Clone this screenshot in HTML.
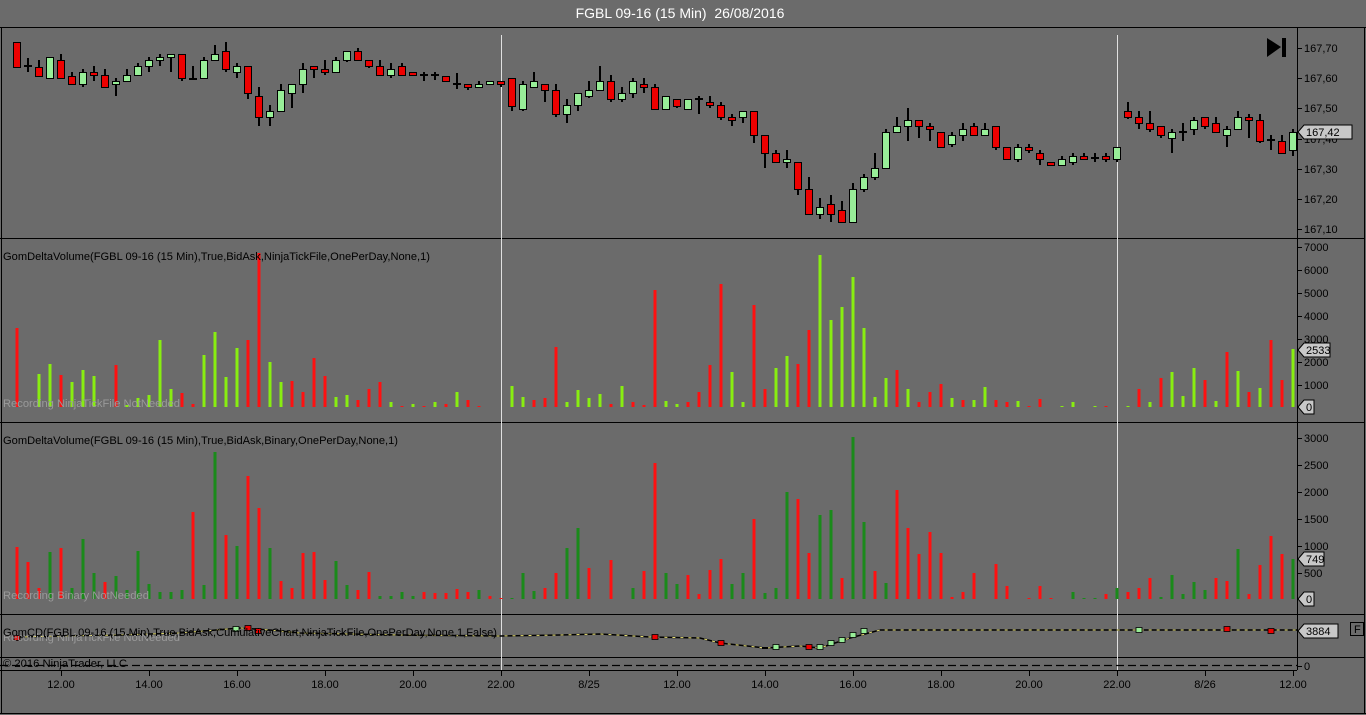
<!DOCTYPE html>
<html><head><meta charset="utf-8"><style>
html,body{margin:0;padding:0;background:#6b6b6b;overflow:hidden}
svg{display:block;font-family:"Liberation Sans",sans-serif}
</style></head><body>
<svg id="s" width="1366" height="715" xmlns="http://www.w3.org/2000/svg">
<rect x="0" y="0" width="1366" height="715" fill="#6b6b6b"/>
<text x="680" y="18" fill="#ffffff" font-size="14" text-anchor="middle">FGBL 09-16 (15 Min)&#160; 26/08/2016</text>
<g id="g"></g>
</svg>
<script>
var NS="http://www.w3.org/2000/svg",G=document.getElementById('g');
function el(t,a,txt){var e=document.createElementNS(NS,t);for(var k in a)e.setAttribute(k,a[k]);if(txt!==undefined)e.textContent=txt;G.appendChild(e);return e;}
el('line',{x1:0,y1:27.5,x2:1366,y2:27.5,stroke:'#000'});
el('line',{x1:1.5,y1:27,x2:1.5,y2:713,stroke:'#000'});
el('line',{x1:1364.5,y1:27,x2:1364.5,y2:713,stroke:'#000'});
el('line',{x1:0,y1:713.5,x2:1366,y2:713.5,stroke:'#000'});
[238,422,614,657].forEach(function(y){el('line',{x1:0,y1:y+.5,x2:1364,y2:y+.5,stroke:'#000'});});
el('line',{x1:0,y1:670.5,x2:1297,y2:670.5,stroke:'#000'});
el('line',{x1:1297.5,y1:27,x2:1297.5,y2:670,stroke:'#000'});
[501,1117].forEach(function(x){el('line',{x1:x+.5,y1:35,x2:x+.5,y2:670,stroke:'#e0e0e0'});});
var C=[['r',42,67,42,68],['d',66,66,58,72],['r',67,76,60,77],['g',57,78,57,78],['r',60,78,54,78],['r',76,84,72,84],['g',72,84,69,87],['r',72,75,66,81],['r',75,87,69,87],['g',81,84,78,96],
['g',75,81,69,81],['g',66,75,63,75],['g',60,66,57,72],['g',57,60,54,66],['g',54,57,54,72],['r',54,78,54,81],['d',79,79,66,79],['g',60,78,57,78],['g',54,60,45,60],['r',51,69,42,72],
['g',66,72,63,78],['r',66,93,66,99],['r',96,117,87,126],['g',111,117,105,126],['g',90,111,84,111],['g',84,93,84,108],['g',69,84,63,93],['r',66,69,66,78],['r',69,72,60,75],['g',60,72,57,72],
['g',51,60,51,62],['r',51,60,48,60],['r',60,66,60,68],['r',66,75,60,75],['g',69,75,63,78],['r',66,75,63,75],['r',72,75,72,75],['d',75,75,72,81],['d',75,75,72,80],['r',76,81,76,81],
['d',84,84,73,89],['r',84,87,84,90],['g',84,87,81,87],['g',81,84,81,84],['r',81,84,81,87],['r',78,106,78,111],['g',84,109,81,111],['g',81,87,72,87],['r',84,90,84,102],['r',90,114,84,117],
['g',105,114,99,123],['g',93,105,93,111],['g',90,96,81,98],['g',81,90,66,90],['r',81,99,75,102],['g',93,99,87,102],['g',81,93,78,98],['r',84,87,78,93],['r',87,109,84,109],['g',96,109,96,109],
['r',99,106,99,108],['g',99,109,99,109],['d',99,99,96,114],['r',102,105,96,108],['r',105,117,102,120],['r',117,120,114,126],['g',111,117,111,123],['r',111,135,111,143],['r',135,153,135,168],['r',153,162,150,162],
['g',159,162,150,168],['r',162,189,162,195],['r',189,214,177,214],['g',207,214,198,219],['r',204,214,195,222],['r',210,222,201,222],['g',189,222,183,222],['g',177,189,174,192],['g',168,177,153,180],['g',132,168,129,168],
['g',126,132,117,132],['g',120,126,108,141],['r',120,126,120,138],['r',126,129,123,141],['r',132,147,132,147],['g',135,144,132,147],['g',129,135,123,141],['r',126,135,123,135],['g',129,135,123,135],['r',126,147,126,150],
['r',147,159,147,159],['g',147,159,144,162],['r',147,150,144,153],['r',153,159,150,165],['r',162,165,162,165],['g',159,165,156,165],['g',156,162,153,165],['r',156,159,153,159],['d',158,158,153,162],['r',156,159,153,162],
['g',147,159,147,162],['r',111,117,102,119],['r',117,123,111,129],['r',123,129,111,132],['r',126,135,126,138],['g',132,138,129,153],['d',132,132,123,141],['g',120,129,117,135],['r',117,126,117,129],['r',123,132,117,132],
['g',129,135,126,147],['g',117,129,111,129],['r',117,120,114,138],['r',120,141,114,143],['d',140,140,135,150],['r',141,153,135,153],['g',132,150,129,156]];
C.forEach(function(c,i){var x=17+11*i;
 el('rect',{x:x-1,y:c[3],width:2,height:Math.max(1,c[4]-c[3]),fill:'#000'});
 if(c[0]=='d'){el('rect',{x:x-4,y:c[1]-1,width:8,height:2,fill:'#000'});}
 else{var h=Math.max(3,c[2]-c[1]);el('rect',{x:x-3.5,y:c[1]+.5,width:7,height:h,fill:c[0]=='r'?'#ee0000':'#98ee98',stroke:'#000','stroke-width':1});}
});
var V1={0:'r79',2:'g33',3:'g43',4:'r32',5:'g25',6:'g37',7:'g31',9:'r42',10:'g2',11:'g9',12:'g12',13:'g67',14:'g18',15:'r14',16:'r3',17:'g52',18:'g75',19:'g30',20:'g59',21:'r67',22:'r154',23:'g45',24:'g25',25:'r26',26:'r15',27:'r49',28:'r31',29:'g10',30:'g12',31:'r7',32:'r18',33:'r25',34:'g5',35:'r1',36:'g3',37:'r1',38:'g5',39:'r3',40:'g15',41:'r7',42:'r1',45:'g21',46:'g10',47:'r7',48:'r9',49:'r60',50:'g5',51:'g17',52:'g9',53:'g13',54:'r3',55:'g21',56:'r5',57:'r2',
58:'r117',59:'g6',60:'g3',61:'r5',62:'r15',63:'r42',64:'r123',65:'g35',66:'g5',67:'r102',68:'r18',69:'g39',70:'g51',71:'r43',72:'r77',73:'g152',74:'g87',75:'g100',76:'g130',77:'g79',78:'g10',79:'g29',80:'r37',81:'g18',82:'r5',83:'r15',84:'r23',85:'g9',86:'r7',87:'g7',88:'g20',89:'r7',90:'r5',91:'g6',92:'r1',93:'r8',95:'g1',96:'g5',98:'g1',99:'r1',101:'g1',102:'r18',103:'g5',104:'r29',105:'g35',106:'g11',107:'g39',108:'r27',109:'g6',110:'r55',111:'g36',112:'r15',113:'g19',114:'r67',115:'r27',116:'g58'};
var V2={0:'r52',1:'r37',2:'r11',3:'g47',4:'r51',5:'g11',6:'g60',7:'g26',8:'r17',9:'g23',10:'g9',11:'g48',12:'g15',13:'g7',14:'g7',15:'g9',16:'r87',17:'g14',18:'g147',19:'r64',20:'g53',21:'r123',22:'r91',23:'g51',24:'r18',25:'r11',26:'r46',27:'r47',28:'r19',29:'g38',30:'g14',31:'r9',32:'r27',33:'g3',34:'g3',35:'g7',36:'g3',37:'r7',38:'r6',39:'r6',40:'r10',41:'r7',42:'g9',43:'r3',44:'r1',45:'g1',46:'g26',47:'g8',48:'r11',49:'r26',50:'g51',51:'g71',52:'r31',54:'r39',56:'g11',57:'r28',
58:'r136',59:'g26',60:'g15',61:'r24',62:'r5',63:'r29',64:'r40',65:'g15',66:'g26',67:'r80',68:'g6',69:'g11',70:'g107',71:'r100',72:'r46',73:'g84',74:'g89',75:'r21',76:'g162',77:'g77',78:'r28',79:'g16',80:'r109',81:'r71',82:'r45',83:'r67',84:'r46',85:'r2',86:'r7',87:'r26',89:'r35',90:'r13',92:'r1',93:'r13',94:'r1',96:'g7',97:'g1',98:'g1',99:'r5',100:'g11',101:'r7',102:'r11',103:'r21',104:'g2',105:'g24',106:'g5',107:'g17',108:'g9',109:'r21',110:'r18',111:'g50',112:'r5',113:'r34',114:'r63',115:'r45',116:'g40'};
function vol(V,base,gc){for(var k in V){var c=V[k][0],h=+V[k].slice(1),x=17+11*k;el('rect',{x:x-1.5,y:base-h,width:3,height:h,fill:c=='r'?'#ff1010':gc});}}
vol(V1,407,'#88ee10');vol(V2,599,'#1a8a1a');
var P=[[17,637],[60,636],[120,635],[180,633],[240,628],[270,630],[300,633],[400,635],[500,636],[560,635],[600,634],[650,637],[700,638],[720,643],[765,648],[800,646],[820,648],[850,638],[880,630],[1297,630]];
var ps=P.map(function(p){return p.join(',')}).join(' ');
el('polyline',{points:ps,fill:'none',stroke:'#000','stroke-width':1.5});
el('polyline',{points:ps,fill:'none',stroke:'#e8e070','stroke-width':1,'stroke-dasharray':'3 5'});
[[17,638,'r'],[236,629,'g'],[248,628,'r'],[258,631,'r'],[655,637,'r'],[721,643,'r'],[765,648,'d'],[776,647,'g'],[809,647,'r'],[820,647,'g'],[831,643,'g'],[842,640,'g'],[853,635,'g'],[864,631,'g'],[1139,630,'g'],[1227,629,'r'],[1271,631,'r']].forEach(function(m){
 if(m[2]=='d')el('rect',{x:m[0]-3,y:m[1]-1,width:6,height:2,fill:'#000'});
 else el('rect',{x:m[0]-3,y:m[1]-2.5,width:6,height:5,fill:m[2]=='r'?'#ee0000':'#98ee98',stroke:'#000','stroke-width':0.8});});
el('line',{x1:0,y1:665.5,x2:1297,y2:665.5,stroke:'#000','stroke-width':1.3,'stroke-dasharray':'8 4'});
el('text',{x:3,y:260,'font-size':11,fill:'#000',textLength:427,lengthAdjust:'spacingAndGlyphs'},'GomDeltaVolume(FGBL 09-16 (15 Min),True,BidAsk,NinjaTickFile,OnePerDay,None,1)');
el('text',{x:3,y:444,'font-size':11,fill:'#000',textLength:395,lengthAdjust:'spacingAndGlyphs'},'GomDeltaVolume(FGBL 09-16 (15 Min),True,BidAsk,Binary,OnePerDay,None,1)');
el('text',{x:3,y:407,'font-size':11,fill:'#9a9a9a',textLength:177,lengthAdjust:'spacingAndGlyphs'},'Recording NinjaTickFile NotNeeded');
el('text',{x:3,y:599,'font-size':11,fill:'#9a9a9a',textLength:146,lengthAdjust:'spacingAndGlyphs'},'Recording Binary NotNeeded');
el('text',{x:3,y:641,'font-size':11,fill:'#9a9a9a',textLength:177,lengthAdjust:'spacingAndGlyphs'},'Recording NinjaTickFile NotNeeded');
el('text',{x:3,y:636,'font-size':11,fill:'#000',textLength:494,lengthAdjust:'spacingAndGlyphs'},'GomCD(FGBL 09-16 (15 Min),True,BidAsk,CumulativeChart,NinjaTickFile,OnePerDay,None,1,False)');
el('text',{x:3,y:667,'font-size':11,fill:'#000',textLength:124,lengthAdjust:'spacingAndGlyphs'},'© 2016 NinjaTrader, LLC');
function tick(y,t){el('line',{x1:1297,y1:y+.5,x2:1302,y2:y+.5,stroke:'#000'});if(t)el('text',{x:1304,y:y+4,'font-size':11,fill:'#000'},t);}
[['167,70',48],['167,60',78],['167,50',108],['167,40',139],['167,30',169],['167,20',199],['167,10',229]].forEach(function(a){tick(a[1],a[0]);});
[['7000',247],['6000',270],['5000',293],['4000',316],['3000',339],['2000',362],['1000',385]].forEach(function(a){tick(a[1],a[0]);});
[['3000',438],['2500',465],['2000',492],['1500',519],['1000',546],['500',573]].forEach(function(a){tick(a[1],a[0]);});
tick(666,'0');
function box(y,t,w){el('path',{d:'M1298,'+y+' l6,-7 h'+w+' v14 h-'+w+' z',fill:'#c8c8c8',stroke:'#000'});el('text',{x:1306,y:y+4,'font-size':11,fill:'#000'},t);}
box(132,'167,42',48);box(350,'2533',26);box(407,'0',10);box(559,'749',20);box(599,'0',10);box(631,'3884',34);
el('rect',{x:1350.5,y:622.5,width:13,height:13,fill:'#6b6b6b',stroke:'#000'});
el('text',{x:1354,y:633,'font-size':11,fill:'#000'},'F');
el('path',{d:'M1267,38 L1281,47 L1267,57 Z',fill:'#000'});
el('rect',{x:1282,y:38,width:4,height:19,fill:'#000'});
[['12.00',61],['14.00',149],['16.00',237],['18.00',325],['20.00',413],['22.00',501],['8/25',589],['12.00',677],['14.00',765],['16.00',853],['18.00',941],['20.00',1029],['22.00',1117],['8/26',1205],['12.00',1293]].forEach(function(a){
 el('line',{x1:a[1]+.5,y1:670,x2:a[1]+.5,y2:676,stroke:'#000'});
 el('text',{x:a[1],y:688,'font-size':11,fill:'#000','text-anchor':'middle'},a[0]);});
</script>
</body></html>
